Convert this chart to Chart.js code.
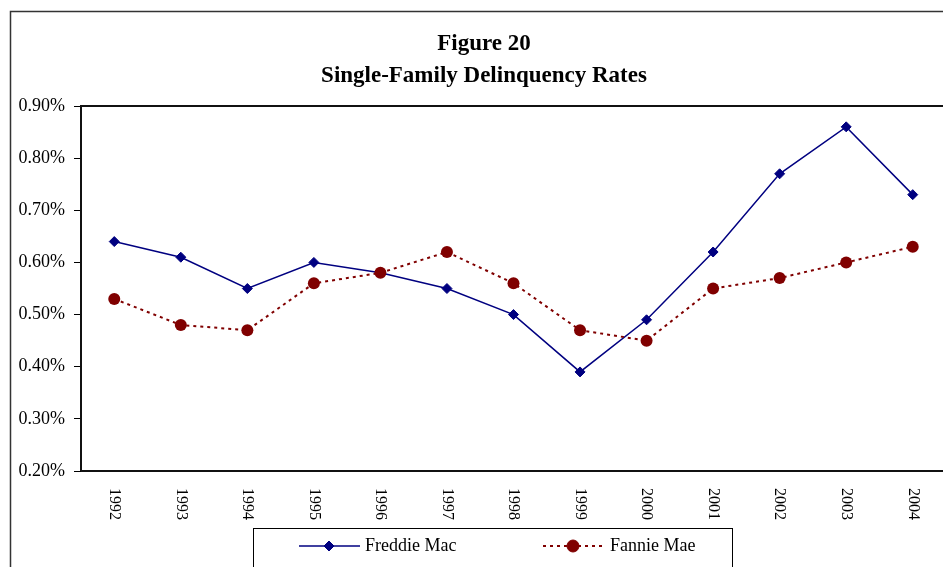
<!DOCTYPE html>
<html>
<head>
<meta charset="utf-8">
<script src="https://cdn.jsdelivr.net/npm/chart.js@4/dist/chart.umd.min.js"></script>
<style>
html,body{margin:0;padding:0;background:#fff;overflow:hidden;width:943px;height:567px;}
#wrap{position:absolute;left:0;top:0;width:968px;height:567px;}
</style>
</head>
<body>
<div id="wrap"><canvas id="c" width="968" height="567"></canvas></div>
<script>
const titleLines = ['Figure 20', 'Single-Family Delinquency Rates'];
const years = ['1992','1993','1994','1995','1996','1997','1998','1999','2000','2001','2002','2003','2004'];
const freddieMac = [0.64, 0.61, 0.55, 0.60, 0.58, 0.55, 0.50, 0.39, 0.49, 0.62, 0.77, 0.86, 0.73];
const fannieMae = [0.53, 0.48, 0.47, 0.56, 0.58, 0.62, 0.56, 0.47, 0.45, 0.55, 0.57, 0.60, 0.63];
const seriesNames = ['Freddie Mac', 'Fannie Mae'];

const FONT = "'Liberation Serif', 'Times New Roman', serif";

const framePlugin = {
  id: 'frame',
  afterDraw(chart) {
    const ctx = chart.ctx;
    const ca = chart.chartArea;
    ctx.save();
    // outer border
    ctx.strokeStyle = '#333';
    ctx.lineWidth = 1.5;
    ctx.strokeRect(10.5, 11.5, 2000, 2000);
    // title
    ctx.fillStyle = '#000';
    ctx.font = 'bold 23px ' + FONT;
    ctx.textAlign = 'center';
    ctx.textBaseline = 'middle';
    titleLines.forEach((t, i) => ctx.fillText(t, 484, 44 + i * 32));
    // plot frame
    ctx.strokeStyle = '#111';
    ctx.lineWidth = 2;
    ctx.beginPath();
    ctx.moveTo(ca.left, ca.bottom);
    ctx.lineTo(ca.left, ca.top);
    ctx.lineTo(ca.right + 5, ca.top);
    ctx.moveTo(ca.left, ca.bottom);
    ctx.lineTo(ca.right + 5, ca.bottom);
    ctx.stroke();
    // x labels rotated clockwise
    const xs = chart.scales.x;
    ctx.fillStyle = '#000';
    ctx.font = '16px ' + FONT;
    ctx.textAlign = 'left';
    ctx.textBaseline = 'middle';
    years.forEach((y, i) => {
      const px = xs.getPixelForTick(i);
      ctx.save();
      ctx.translate(px, ca.bottom + 17);
      ctx.rotate(Math.PI / 2);
      ctx.fillText(y, 0, 0);
      ctx.restore();
    });
    // legend
    const lx = 253.5, ly = 528.5, lw = 479, lh = 40;
    ctx.strokeStyle = '#000';
    ctx.lineWidth = 1;
    ctx.strokeRect(lx, ly, lw, lh);
    const cy = 546;
    const items = [
      {x0: 299, x1: 360, mx: 329, tx: 365},
      {x0: 543, x1: 603, mx: 573, tx: 610}
    ];
    chart.data.datasets.forEach((ds, i) => {
      const it = items[i];
      ctx.save();
      ctx.strokeStyle = ds.borderColor;
      ctx.lineWidth = ds.borderWidth;
      ctx.setLineDash(ds.borderDash || []);
      ctx.beginPath();
      ctx.moveTo(it.x0, cy);
      ctx.lineTo(it.x1, cy);
      ctx.stroke();
      ctx.restore();
      ctx.fillStyle = ds.pointBackgroundColor;
      ctx.strokeStyle = ds.pointBorderColor;
      ctx.lineWidth = 1;
      ctx.beginPath();
      if (ds.pointStyle === 'circle') {
        ctx.arc(it.mx, cy, ds.pointRadius, 0, Math.PI * 2);
      } else {
        const r = ds.pointRadius;
        ctx.moveTo(it.mx - r, cy); ctx.lineTo(it.mx, cy - r);
        ctx.lineTo(it.mx + r, cy); ctx.lineTo(it.mx, cy + r); ctx.closePath();
      }
      ctx.fill();
      ctx.stroke();
      ctx.fillStyle = '#000';
      ctx.font = '18px ' + FONT;
      ctx.textAlign = 'left';
      ctx.textBaseline = 'middle';
      ctx.fillText(ds.label, it.tx, cy);
    });
    ctx.restore();
  }
};

new Chart(document.getElementById('c'), {
  type: 'line',
  data: {
    labels: years,
    datasets: [
      {
        label: seriesNames[0],
        data: freddieMac,
        borderColor: '#000080',
        backgroundColor: '#000080',
        pointBackgroundColor: '#000080',
        pointBorderColor: '#000080',
        borderWidth: 1.5,
        pointStyle: 'rectRot',
        pointRadius: 5,
        pointBorderWidth: 1,
        tension: 0,
        order: 1
      },
      {
        label: seriesNames[1],
        data: fannieMae,
        borderColor: '#800000',
        backgroundColor: '#800000',
        pointBackgroundColor: '#800000',
        pointBorderColor: '#800000',
        borderWidth: 2,
        borderDash: [3, 4],
        pointStyle: 'circle',
        pointRadius: 6,
        pointBorderWidth: 0,
        tension: 0,
        order: 0
      }
    ]
  },
  options: {
    responsive: false,
    animation: false,
    devicePixelRatio: 1,
    layout: { padding: { left: 0, right: 22, top: 106, bottom: 36 } },
    plugins: {
      legend: { display: false },
      tooltip: { enabled: false },
      title: { display: false }
    },
    scales: {
      x: {
        offset: true,
        grid: { display: false, drawTicks: false },
        border: { display: false },
        ticks: { display: false },
        afterFit(scale) { scale.height = 60; }
      },
      y: {
        min: 0.2,
        max: 0.9,
        grid: { display: true, drawOnChartArea: false, drawTicks: true, tickLength: 7, color: '#000', lineWidth: 1 },
        border: { display: false },
        ticks: {
          stepSize: 0.1,
          padding: 9,
          color: '#000',
          font: { family: FONT, size: 18 },
          callback: (v) => v.toFixed(2) + '%'
        },
        afterFit(scale) { scale.width = 81; }
      }
    }
  },
  plugins: [framePlugin]
});
</script>
</body>
</html>
